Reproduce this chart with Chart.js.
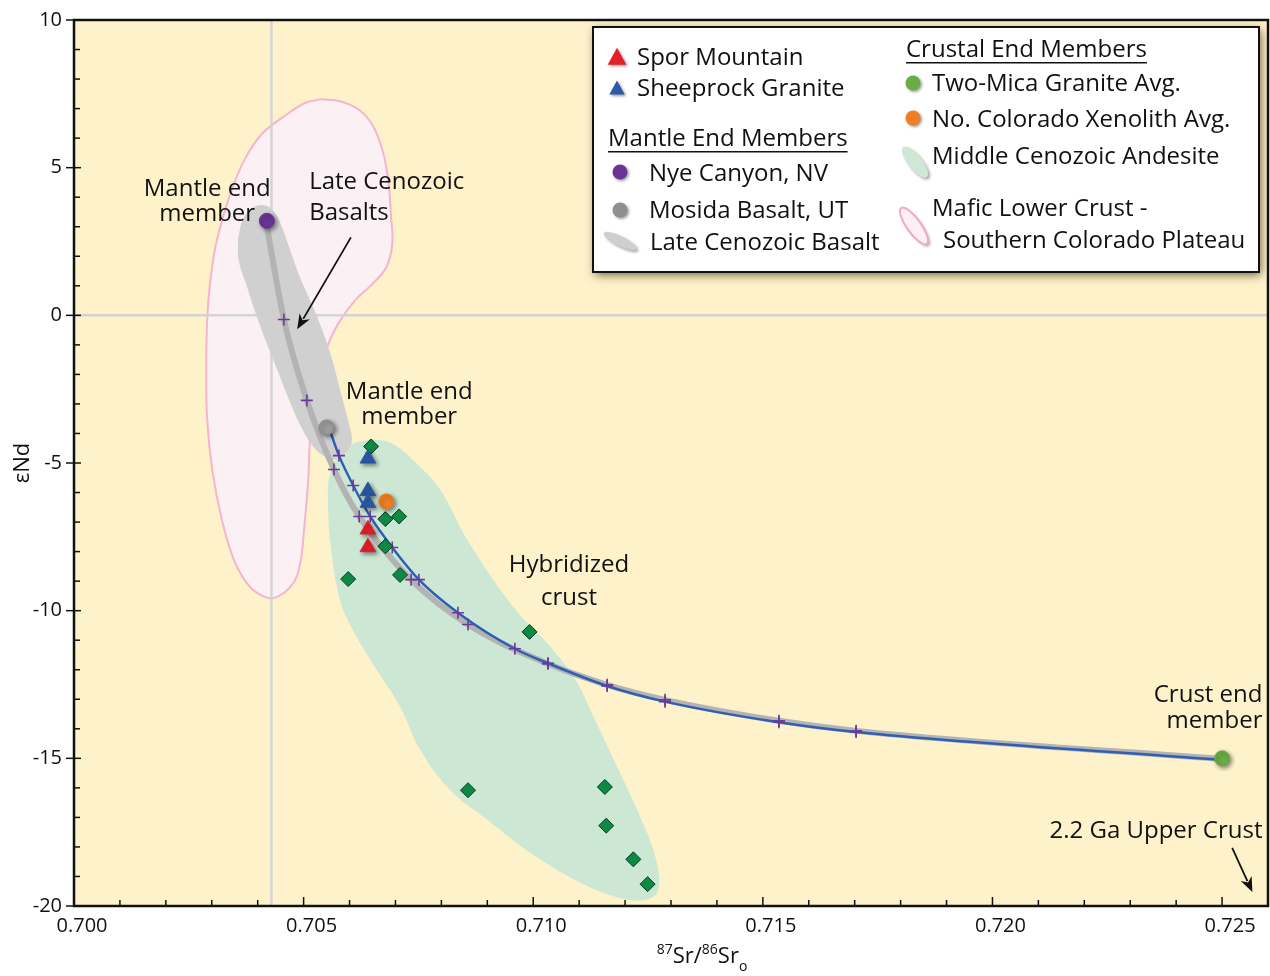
<!DOCTYPE html>
<html>
<head>
<meta charset="utf-8">
<script src="https://cdn.jsdelivr.net/npm/chart.js@4.4.1/dist/chart.umd.min.js"></script>
<style>
  html, body { margin: 0; padding: 0; background: #fff; }
</style>
</head>
<body>
<canvas id="chart" width="1270" height="976"></canvas>
<script>
// axis ranges and ticks
const xRange = [0.700, 0.726];
const yRange = [-20, 10];
const xTickValues = [0.700, 0.705, 0.710, 0.715, 0.720, 0.725];
const yTickValues = [-20, -15, -10, -5, 0, 5, 10];

// samples
const sporMountain = [[0.7064, -7.25], [0.7064, -7.85]];
const sheeprockGranite = [[0.7064, -4.85], [0.7064, -5.95], [0.7064, -6.35]];
const andesiteSamples = [
    [0.70647, -4.44], [0.70678, -6.90], [0.70708, -6.81], [0.70678, -7.82],
    [0.70597, -8.93], [0.70710, -8.79], [0.70992, -10.72], [0.70858, -16.08],
    [0.71156, -15.97], [0.71159, -17.28], [0.71218, -18.42], [0.71249, -19.26]
];

// end members
const nyeCanyon = [[0.7042, 3.2]];
const mosidaBasalt = [[0.7055, -3.8]];
const twoMicaGranite = [[0.7250, -15.0]];
const coloradoXenolith = [[0.7068, -6.3]];

// mixing curves (the + marks sit on the inner points)
const nyeMixCurve = [
    [0.70418, 3.19], [0.70457, -0.14], [0.70507, -2.88], [0.70566, -5.22], [0.70621, -6.81],
    [0.70734, -8.95], [0.70858, -10.47], [0.71032, -11.80], [0.71161, -12.51], [0.71287, -13.02],
    [0.71535, -13.73], [0.71703, -14.07], [0.72498, -15.02]
];
const mosidaMixCurve = [
    [0.70555, -3.80], [0.70577, -4.75], [0.70608, -5.76], [0.70645, -6.81], [0.70693, -7.86],
    [0.70751, -8.95], [0.70836, -10.07], [0.70960, -11.29], [0.71032, -11.78], [0.71161, -12.55],
    [0.71287, -13.08], [0.71535, -13.78], [0.71703, -14.11], [0.72498, -15.05]
];

// fields
const lateCenozoicBasaltField = [
    [0.70357, 2.58], [0.70368, 3.25], [0.70388, 3.63], [0.70412, 3.73], [0.70433, 3.56],
    [0.70451, 3.05], [0.70470, 2.24], [0.70492, 1.29], [0.70518, 0.37], [0.70540, -0.47],
    [0.70562, -1.49], [0.70582, -2.68], [0.70599, -3.70], [0.70605, -4.27], [0.70592, -4.64],
    [0.70568, -4.88], [0.70542, -4.75], [0.70516, -4.34], [0.70492, -3.70], [0.70470, -2.92],
    [0.70444, -1.90], [0.70418, -0.88], [0.70394, 0.14], [0.70375, 1.05], [0.70359, 1.83],
    [0.70357, 2.58]
];
const maficLowerCrustField = [
    [0.70540, 7.32], [0.70579, 7.25], [0.70619, 6.98], [0.70649, 6.47], [0.70671, 5.63],
    [0.70684, 4.61], [0.70690, 3.42], [0.70693, 2.41], [0.70680, 1.63], [0.70649, 1.05],
    [0.70614, 0.54], [0.70584, -0.07], [0.70558, -0.81], [0.70536, -1.83], [0.70523, -2.85],
    [0.70514, -4.20], [0.70510, -5.56], [0.70501, -7.25], [0.70492, -8.44], [0.70475, -9.12],
    [0.70438, -9.56], [0.70409, -9.49], [0.70379, -9.12], [0.70348, -8.27], [0.70322, -6.92],
    [0.70301, -5.22], [0.70290, -3.53], [0.70288, -1.83], [0.70290, -0.14], [0.70296, 1.05],
    [0.70307, 2.24], [0.70322, 3.19], [0.70344, 4.27], [0.70372, 5.29], [0.70409, 6.14],
    [0.70455, 6.71], [0.70503, 7.19], [0.70540, 7.32]
];
const andesiteField = [
    [0.70645, -4.20], [0.70688, -4.31], [0.70732, -4.81], [0.70797, -5.90], [0.70856, -7.59],
    [0.70956, -9.86], [0.71043, -11.32], [0.71096, -12.44], [0.71124, -13.36], [0.71183, -15.29],
    [0.71248, -17.53], [0.71272, -18.78], [0.71270, -19.53], [0.71244, -19.80], [0.71189, -19.73],
    [0.71113, -19.29], [0.71004, -18.31], [0.70895, -17.02], [0.70819, -16.07], [0.70754, -14.71],
    [0.70710, -13.25], [0.70645, -11.66], [0.70601, -10.47], [0.70579, -9.63], [0.70560, -7.93],
    [0.70553, -6.24], [0.70558, -5.32], [0.70579, -4.71], [0.70605, -4.37], [0.70645, -4.20]
];

// reference lines
const refSr = 0.7043;
const refNd = 0;

// legend texts
const legendSamples = ['Spor Mountain', 'Sheeprock Granite'];
const legendMantleTitle = 'Mantle End Members';
const legendMantle = ['Nye Canyon, NV', 'Mosida Basalt, UT', 'Late Cenozoic Basalt'];
const legendCrustTitle = 'Crustal End Members';
const legendCrust = ['Two-Mica Granite Avg.', 'No. Colorado Xenolith Avg.', 'Middle Cenozoic Andesite'];
const legendLowerCrust = ['Mafic Lower Crust -', 'Southern Colorado Plateau'];

// annotations: [text lines, x, y, align]
const notes = [
    [['Mantle end', 'member'], 0.70290, [4.27, 3.42], 'center'],
    [['Late Cenozoic', 'Basalts'], 0.70512, [4.51, 3.46], 'left'],
    [['Mantle end', 'member'], 0.70730, [-2.61, -3.46], 'center'],
    [['Hybridized', 'crust'], 0.71078, [-8.47, -9.56], 'center'],
    [['Crust end', 'member'], 0.72588, [-12.85, -13.73], 'right'],
    [['2.2 Ga Upper Crust'], 0.72588, [-17.46], 'right']
];
const arrows = [
    [0.70603, 2.64, 0.70486, -0.47],
    [0.72522, -18.03, 0.72566, -19.53]
];

const FONT = '"Open Sans", "DejaVu Sans", sans-serif';
const pts = arr => arr.map(p => ({ x: p[0], y: p[1] }));

function fieldSet(data, fill, stroke, width, order) {
    return {
        type: 'line', data: pts(data), order,
        fill: 'shape', backgroundColor: fill,
        borderColor: stroke, borderWidth: width,
        tension: 0.4, pointRadius: 0
    };
}

function markerSet(data, style, radius, fill, stroke, order, shadow) {
    return {
        data: pts(data), order, shadow,
        pointStyle: style, pointRadius: radius,
        backgroundColor: fill, borderColor: stroke, borderWidth: 1
    };
}

function curveSet(data, color, width, order) {
    const last = data.length - 1;
    return {
        type: 'line', data: pts(data), order,
        borderColor: color, borderWidth: width, fill: false,
        cubicInterpolationMode: 'monotone',
        pointStyle: 'cross',
        pointRadius: ctx => (ctx.dataIndex === 0 || ctx.dataIndex === last) ? 0 : 6,
        pointBorderColor: '#6b3a99', pointBorderWidth: 1.6
    };
}

const markerShadow = {
    id: 'markerShadow',
    beforeDatasetDraw(chart, args) {
        if (chart.data.datasets[args.index].shadow) {
            const c = chart.ctx;
            c.save();
            c.shadowColor = 'rgba(0,0,0,0.45)';
            c.shadowBlur = 4;
            c.shadowOffsetX = 2;
            c.shadowOffsetY = 2;
        }
    },
    afterDatasetDraw(chart, args) {
        if (chart.data.datasets[args.index].shadow) chart.ctx.restore();
    }
};

function drawArrow(c, x1, y1, x2, y2) {
    const a = Math.atan2(y2 - y1, x2 - x1);
    const hl = 15, hw = 6;
    c.beginPath();
    c.moveTo(x1, y1);
    c.lineTo(x2 - hl * 0.8 * Math.cos(a), y2 - hl * 0.8 * Math.sin(a));
    c.lineWidth = 1.8;
    c.strokeStyle = '#111';
    c.stroke();
    c.beginPath();
    c.moveTo(x2, y2);
    c.lineTo(x2 - hl * Math.cos(a) + hw * Math.sin(a), y2 - hl * Math.sin(a) - hw * Math.cos(a));
    c.lineTo(x2 - hl * 0.7 * Math.cos(a), y2 - hl * 0.7 * Math.sin(a));
    c.lineTo(x2 - hl * Math.cos(a) - hw * Math.sin(a), y2 - hl * Math.sin(a) + hw * Math.cos(a));
    c.closePath();
    c.fillStyle = '#111';
    c.fill();
}

function triangle(c, x, y, s, color) {
    c.save();
    c.shadowColor = 'rgba(0,0,0,0.4)';
    c.shadowBlur = 3; c.shadowOffsetX = 1.5; c.shadowOffsetY = 1.5;
    c.beginPath();
    c.moveTo(x, y - s * 0.6);
    c.lineTo(x + s * 0.55, y + s * 0.4);
    c.lineTo(x - s * 0.55, y + s * 0.4);
    c.closePath();
    c.fillStyle = color;
    c.fill();
    c.restore();
}

function dot(c, x, y, r, color) {
    c.save();
    c.shadowColor = 'rgba(0,0,0,0.4)';
    c.shadowBlur = 3; c.shadowOffsetX = 1.5; c.shadowOffsetY = 1.5;
    c.beginPath();
    c.arc(x, y, r, 0, Math.PI * 2);
    c.fillStyle = color;
    c.fill();
    c.restore();
}

function blob(c, x, y, rx, ry, rot, fill, stroke) {
    c.save();
    c.shadowColor = 'rgba(0,0,0,0.35)';
    c.shadowBlur = 3; c.shadowOffsetX = 2; c.shadowOffsetY = 2;
    c.beginPath();
    c.ellipse(x, y, rx, ry, rot, 0, Math.PI * 2);
    c.fillStyle = fill;
    c.fill();
    c.restore();
    if (stroke) {
        c.lineWidth = 2;
        c.strokeStyle = stroke;
        c.stroke();
    }
}

function underlined(c, text, x, y) {
    c.fillText(text, x, y);
    const w = c.measureText(text).width;
    c.fillRect(x, y + 12, w, 1.5);
}

function drawLegend(c) {
    const L = 593, T = 27, W = 666, H = 245;
    c.save();
    c.shadowColor = 'rgba(80,65,30,0.8)';
    c.shadowBlur = 9; c.shadowOffsetX = 2; c.shadowOffsetY = 3;
    c.fillStyle = '#fff';
    c.fillRect(L, T, W, H);
    c.restore();
    c.lineWidth = 2;
    c.strokeStyle = '#111';
    c.strokeRect(L, T, W, H);

    c.font = '24px ' + FONT;
    c.fillStyle = '#111';
    c.textAlign = 'left';
    c.textBaseline = 'middle';

    triangle(c, 617, 58, 17, '#e3202a');
    triangle(c, 617, 89, 14, '#2d59a8');
    c.fillStyle = '#111';
    c.fillText(legendSamples[0], 637, 58);
    c.fillText(legendSamples[1], 637, 89);

    underlined(c, legendMantleTitle, 608, 139);
    dot(c, 620, 172, 7.5, '#6b3494');
    dot(c, 620, 210, 7.5, '#8f8f8f');
    blob(c, 620, 241, 18, 5, 0.46, '#cfcfcf');
    c.fillStyle = '#111';
    c.fillText(legendMantle[0], 649, 174);
    c.fillText(legendMantle[1], 649, 211);
    c.fillText(legendMantle[2], 650, 243);

    underlined(c, legendCrustTitle, 906, 50);
    dot(c, 913, 83, 7.5, '#68ad45');
    dot(c, 913, 118, 7.5, '#ef7d22');
    blob(c, 915, 162, 19, 7, 0.9, '#cfe8d6');
    blob(c, 914, 226, 22, 7, 0.95, '#fdf0f5', '#f2a9c2');
    c.fillStyle = '#111';
    c.fillText(legendCrust[0], 932, 84);
    c.fillText(legendCrust[1], 932, 120);
    c.fillText(legendCrust[2], 932, 157);
    c.fillText(legendLowerCrust[0], 932, 209);
    c.fillText(legendLowerCrust[1], 943, 241);
}

function drawXTitle(c, cx, baseline) {
    const parts = [['87', 14, -9], ['Sr/', 22, 0], ['86', 14, -9], ['Sr', 22, 0], ['o', 14, 8]];
    let total = 0;
    parts.forEach(p => { c.font = p[1] + 'px ' + FONT; total += c.measureText(p[0]).width; });
    let x = cx - total / 2;
    c.textAlign = 'left';
    c.textBaseline = 'alphabetic';
    c.fillStyle = '#111';
    parts.forEach(p => {
        c.font = p[1] + 'px ' + FONT;
        c.fillText(p[0], x, baseline + p[2]);
        x += c.measureText(p[0]).width;
    });
}

const plotDecor = {
    id: 'plotDecor',
    beforeDraw(chart) {
        const { ctx: c, chartArea: a } = chart;
        c.save();
        c.fillStyle = '#fef2cb';
        c.fillRect(a.left, a.top, a.right - a.left, a.bottom - a.top);
        c.restore();
    },
    afterDatasetsDraw(chart) {
        const { ctx: c, chartArea: a, scales: { x, y } } = chart;
        c.save();
        c.strokeStyle = '#111';
        c.lineWidth = 1.5;
        // inner tick marks
        for (let i = 0; i <= 26; i++) {
            const px = x.getPixelForValue(xRange[0] + i * 0.001);
            const len = i % 5 === 0 ? 9 : 6;
            c.beginPath();
            c.moveTo(px, a.bottom);
            c.lineTo(px, a.bottom - len);
            c.stroke();
        }
        for (let v = yRange[0]; v <= yRange[1]; v++) {
            const py = y.getPixelForValue(v);
            const major = v % 5 === 0;
            c.beginPath();
            c.moveTo(a.left - (major ? 8 : 0), py);
            c.lineTo(a.left + (major ? 7 : 6), py);
            c.stroke();
        }
        c.lineWidth = 2.5;
        c.strokeRect(a.left, a.top, a.right - a.left, a.bottom - a.top);
        c.restore();
    },
    afterDraw(chart) {
        const { ctx: c, scales: { x, y } } = chart;
        c.save();
        c.font = '24px ' + FONT;
        c.fillStyle = '#111';
        c.textBaseline = 'middle';
        notes.forEach(n => {
            c.textAlign = n[3];
            n[0].forEach((line, i) => c.fillText(line, x.getPixelForValue(n[1]), y.getPixelForValue(n[2][i])));
        });
        arrows.forEach(r => drawArrow(c, x.getPixelForValue(r[0]), y.getPixelForValue(r[1]),
            x.getPixelForValue(r[2]), y.getPixelForValue(r[3])));
        drawXTitle(c, 702, 963);
        drawLegend(c);
        c.restore();
    }
};

const datasets = [
    markerSet(nyeCanyon, 'circle', 7.5, '#6b3494', '#6b3494', 1, true),
    markerSet(mosidaBasalt, 'circle', 7.5, '#9b9b9b', '#8a8a8a', 1, true),
    markerSet(twoMicaGranite, 'circle', 7.5, '#68ad45', '#68ad45', 1, true),
    markerSet(coloradoXenolith, 'circle', 7.5, '#ef7d22', '#ef7d22', 1, true),
    markerSet(sporMountain, 'triangle', 9, '#e3202a', '#e3202a', 2, true),
    markerSet(sheeprockGranite, 'triangle', 9, '#2d59a8', '#2d59a8', 2, true),
    markerSet(andesiteSamples, 'rectRot', 7.5, '#0c8a43', '#0b3a1e', 3, false),
    curveSet(mosidaMixCurve, '#2f5fb3', 2.5, 4),
    curveSet(nyeMixCurve, '#b3b3b3', 6, 5),
    fieldSet(lateCenozoicBasaltField, '#d0d0d0', 'rgba(0,0,0,0)', 0, 6),
    fieldSet(andesiteField, '#cce8d5', 'rgba(0,0,0,0)', 0, 7),
    { type: 'line', data: [{ x: refSr, y: yRange[0] }, { x: refSr, y: yRange[1] }], order: 8,
      borderColor: '#d4d4d4', borderWidth: 2.5, pointRadius: 0, fill: false },
    { type: 'line', data: [{ x: xRange[0], y: refNd }, { x: xRange[1], y: refNd }], order: 8,
      borderColor: '#d4d4d4', borderWidth: 2.5, pointRadius: 0, fill: false },
    fieldSet(maficLowerCrustField, '#fbf0f4', '#f5b5ca', 2, 9)
];

new Chart(document.getElementById('chart'), {
    type: 'scatter',
    data: { datasets },
    options: {
        responsive: false,
        animation: false,
        layout: { autoPadding: false, padding: { top: 20, right: 2, left: 0, bottom: 0 } },
        plugins: { legend: { display: false }, tooltip: { enabled: false } },
        scales: {
            x: {
                type: 'linear', min: xRange[0], max: xRange[1],
                grid: { display: false, drawTicks: false },
                border: { display: false },
                afterBuildTicks: s => { s.ticks = xTickValues.map(v => ({ value: v })); },
                afterFit: s => { s.height = 70; s.paddingLeft = 0; s.paddingRight = 0; },
                ticks: {
                    autoSkip: false, maxRotation: 0, padding: 8, labelOffset: 8, color: '#111',
                    font: { family: FONT, size: 20 },
                    callback: v => v.toFixed(3)
                }
            },
            y: {
                type: 'linear', min: yRange[0], max: yRange[1],
                grid: { display: false, drawTicks: false },
                border: { display: false },
                afterBuildTicks: s => { s.ticks = yTickValues.map(v => ({ value: v })); },
                afterFit: s => { s.width = 74; s.paddingTop = 0; s.paddingBottom = 0; },
                title: { display: true, text: 'εNd', color: '#111', font: { family: FONT, size: 22 }, padding: { top: 10, bottom: 0 } },
                ticks: {
                    autoSkip: false, padding: 12, color: '#111',
                    font: { family: FONT, size: 20 },
                    callback: v => String(v)
                }
            }
        }
    },
    plugins: [markerShadow, plotDecor]
});
</script>
</body>
</html>
